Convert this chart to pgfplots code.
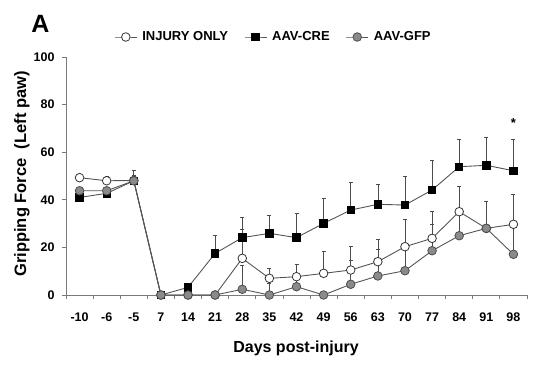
\documentclass[border=0pt]{standalone}
\usepackage{pgfplots}
\pgfplotsset{compat=1.18}
\usepackage{pgfplotstable}
\usepackage{fontspec}
\setmainfont{Liberation Sans}
\definecolor{ln}{HTML}{555555}
\definecolor{gfpfill}{HTML}{8A8A8A}
\definecolor{axc}{HTML}{7A7A7A}

\pgfplotstableread{
x y e
0 49.3 1.0
1 48.0 2.0
2 48.1 2.0
3 0 0
4 0 0
5 0 0
6 15.4 12
7 7.0 4.2
8 7.7 5.3
9 9.1 9.1
10 10.5 9.8
11 14.0 9.4
12 20.3 11.6
13 23.8 11.5
14 35.0 10.5
15 28.0 11.5
16 29.7 12.6
}\injury

\pgfplotstableread{
x y e
0 41.0 1
1 42.7 1
2 48.0 4.2
3 0 0
4 3.2 1
5 17.5 7.7
6 24.1 8.5
7 25.9 7.4
8 24.1 10.2
9 30.1 10.5
10 35.7 11.5
11 38.1 8.5
12 37.8 12
13 44.1 12.3
14 53.9 11.5
15 54.5 11.6
16 52.2 13.3
}\cre

\pgfplotstableread{
x y e
0 43.8 1
1 43.8 1
2 48.0 2
3 0 0
4 0 0
5 0 0
6 2.4 10
7 0 5
8 3.5 4
9 0 0
10 4.5 10
11 8.0 11
12 10.2 10
13 18.6 11
14 24.9 10
15 28.0 11.5
16 17.1 12
}\gfp

\begin{document}
\begin{tikzpicture}
\path[use as bounding box] (0pt,0pt) rectangle (539pt,370pt);
\begin{axis}[
  at={(66pt,75pt)}, anchor=south west,
  scale only axis, width=461pt, height=238pt,
  xmin=-0.5, xmax=16.5, ymin=0, ymax=100,
  axis lines=left,
  axis line style={-, draw=axc, line width=0.9pt},
  tick align=outside,
  major tick length=4pt,
  tick style={draw=axc, line width=0.8pt},
  xtick={-0.5,0.5,...,16.5},
  xticklabels={},
  extra x ticks={0,1,...,16},
  extra x tick labels={-10,-6,-5,7,14,21,28,35,42,49,56,63,70,77,84,91,98},
  extra x tick style={major tick length=0pt, tick label style={yshift=-14pt}},
  ytick={0,20,...,100},
  /pgf/number format/assume math mode=true,
  tick label style={font=\fontsize{12.5}{14}\selectfont\bfseries},
  yticklabel style={xshift=-4pt},
  clip=false,
  legend style={at={(0.45,1.084)}, anchor=center, draw=none, fill=none,
    legend columns=-1, font=\fontsize{13}{15}\selectfont\bfseries,
    /tikz/every even column/.append style={column sep=14pt},
    /tikz/every odd column/.append style={column sep=3pt},
    inner sep=0pt},
  legend cell align=left,
  legend image code/.code={\draw[mark repeat=2,mark phase=2] plot coordinates {(0cm,0cm)(0.39cm,0cm)(0.78cm,0cm)};},
  every axis plot/.append style={line width=0.9pt, draw=ln},
  error bars/error bar style={draw=black!70, line width=0.7pt},
  error bars/error mark options={rotate=90, mark size=2pt, draw=black!70, line width=0.7pt},
]
\addplot[ln, mark=*, mark size=4.3pt, mark options={fill=white, draw=black!80, line width=0.8pt},
  error bars/.cd, y dir=plus, y explicit] table[x=x, y=y, y error=e] {\injury};
\addlegendentry{INJURY ONLY}
\addplot[ln, mark=square*, mark size=3.7pt, mark options={fill=black, draw=black},
  error bars/.cd, y dir=plus, y explicit] table[x=x, y=y, y error=e] {\cre};
\addlegendentry{AAV-CRE}
\addplot[ln, mark=*, mark size=4.3pt, mark options={fill=gfpfill, draw=black!70, line width=0.8pt},
  error bars/.cd, y dir=plus, y explicit] table[x=x, y=y, y error=e] {\gfp};
\addlegendentry{AAV-GFP}
\node[font=\fontsize{13}{15}\selectfont\bfseries] at (axis cs:16,72.4) {*};
\end{axis}
\node[font=\fontsize{16}{18}\selectfont\bfseries] at (296pt,22pt) {Days post-injury};
\node[font=\fontsize{16.5}{18}\selectfont\bfseries, rotate=90] at (22pt,196pt) {Gripping Force\ \ (Left paw)};
\node[font=\fontsize{25}{28}\selectfont\bfseries] at (40.5pt,346pt) {A};
\end{tikzpicture}
\end{document}
